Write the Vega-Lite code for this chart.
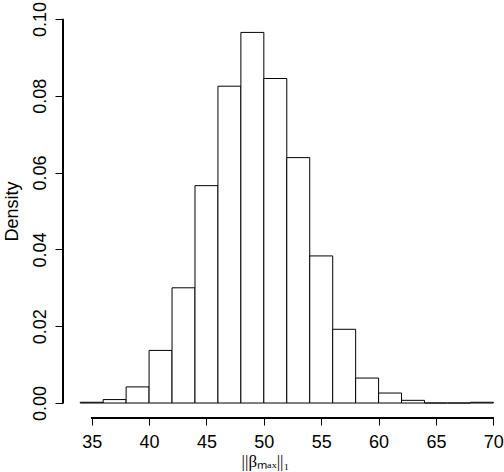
{
  "$schema": "https://vega.github.io/schema/vega-lite/v6.json",
  "autosize": "none",
  "width": 441,
  "height": 414,
  "padding": {"left": 63, "top": 4, "right": 0, "bottom": 54},
  "background": "white",
  "config": {"view": {"stroke": null}, "axis": {"grid": false}},
  "data": {"values": [
    {"bin_start": 34, "bin_end": 36, "density": 0.0002},
    {"bin_start": 36, "bin_end": 38, "density": 0.0009},
    {"bin_start": 38, "bin_end": 40, "density": 0.0042},
    {"bin_start": 40, "bin_end": 42, "density": 0.0137},
    {"bin_start": 42, "bin_end": 44, "density": 0.0300},
    {"bin_start": 44, "bin_end": 46, "density": 0.0566},
    {"bin_start": 46, "bin_end": 48, "density": 0.0825},
    {"bin_start": 48, "bin_end": 50, "density": 0.0965},
    {"bin_start": 50, "bin_end": 52, "density": 0.0845},
    {"bin_start": 52, "bin_end": 54, "density": 0.0639},
    {"bin_start": 54, "bin_end": 56, "density": 0.0383},
    {"bin_start": 56, "bin_end": 58, "density": 0.0192},
    {"bin_start": 58, "bin_end": 60, "density": 0.0065},
    {"bin_start": 60, "bin_end": 62, "density": 0.0026},
    {"bin_start": 62, "bin_end": 64, "density": 0.0007},
    {"bin_start": 64, "bin_end": 66, "density": 0},
    {"bin_start": 66, "bin_end": 68, "density": 0},
    {"bin_start": 68, "bin_end": 70, "density": 0.0002}
  ]},
  "layer": [
    {
      "mark": {"type": "rect", "fill": "white", "stroke": "black", "strokeWidth": 1},
      "encoding": {
        "x": {
          "field": "bin_start", "type": "quantitative",
          "scale": {"domain": [32.499, 70.927], "nice": false, "zero": false},
          "axis": {
            "values": [35, 40, 45, 50, 55, 60, 65, 70],
            "domain": false, "tickSize": 7, "tickColor": "black", "tickWidth": 1,
            "labelFont": "Liberation Sans", "labelFontSize": 18, "labelColor": "black",
            "labelPadding": 8, "labelFlush": false, "labelOverlap": false,
            "title": "||βₘₐₓ||₁",
            "titleFont": "Liberation Serif", "titleFontSize": 17, "titleFontWeight": "normal",
            "titleColor": "black", "titleX": 202, "titleY": 48, "titleBaseline": "alphabetic", "titleAlign": "center"
          }
        },
        "x2": {"field": "bin_end"},
        "y": {
          "field": "density", "type": "quantitative",
          "scale": {"domain": [-0.0039, 0.1039], "nice": false, "zero": false},
          "axis": {
            "values": [0, 0.02, 0.04, 0.06, 0.08, 0.1],
            "format": ".2f",
            "domain": false, "tickSize": 8, "tickColor": "black", "tickWidth": 1,
            "labelFont": "Liberation Sans", "labelFontSize": 18, "labelColor": "black",
            "labelAngle": 270, "labelAlign": "center", "labelBaseline": "alphabetic",
            "labelPadding": 10, "labelFlush": false, "labelOverlap": false,
            "title": "Density",
            "titleFont": "Liberation Sans", "titleFontSize": 18, "titleFontWeight": "normal",
            "titleColor": "black", "titleX": -46, "titleBaseline": "alphabetic", "titleAlign": "center", "titleAngle": 270
          }
        },
        "y2": {"datum": 0}
      }
    },
    {
      "mark": {"type": "rule", "color": "black", "strokeWidth": 1},
      "encoding": {
        "x": {"datum": 35, "type": "quantitative"},
        "x2": {"datum": 70},
        "y": {"datum": -0.0039, "type": "quantitative"}
      }
    },
    {
      "mark": {"type": "rule", "color": "black", "strokeWidth": 1},
      "encoding": {
        "x": {"datum": 32.499, "type": "quantitative"},
        "y": {"datum": 0, "type": "quantitative"},
        "y2": {"datum": 0.1}
      }
    }
  ]
}
